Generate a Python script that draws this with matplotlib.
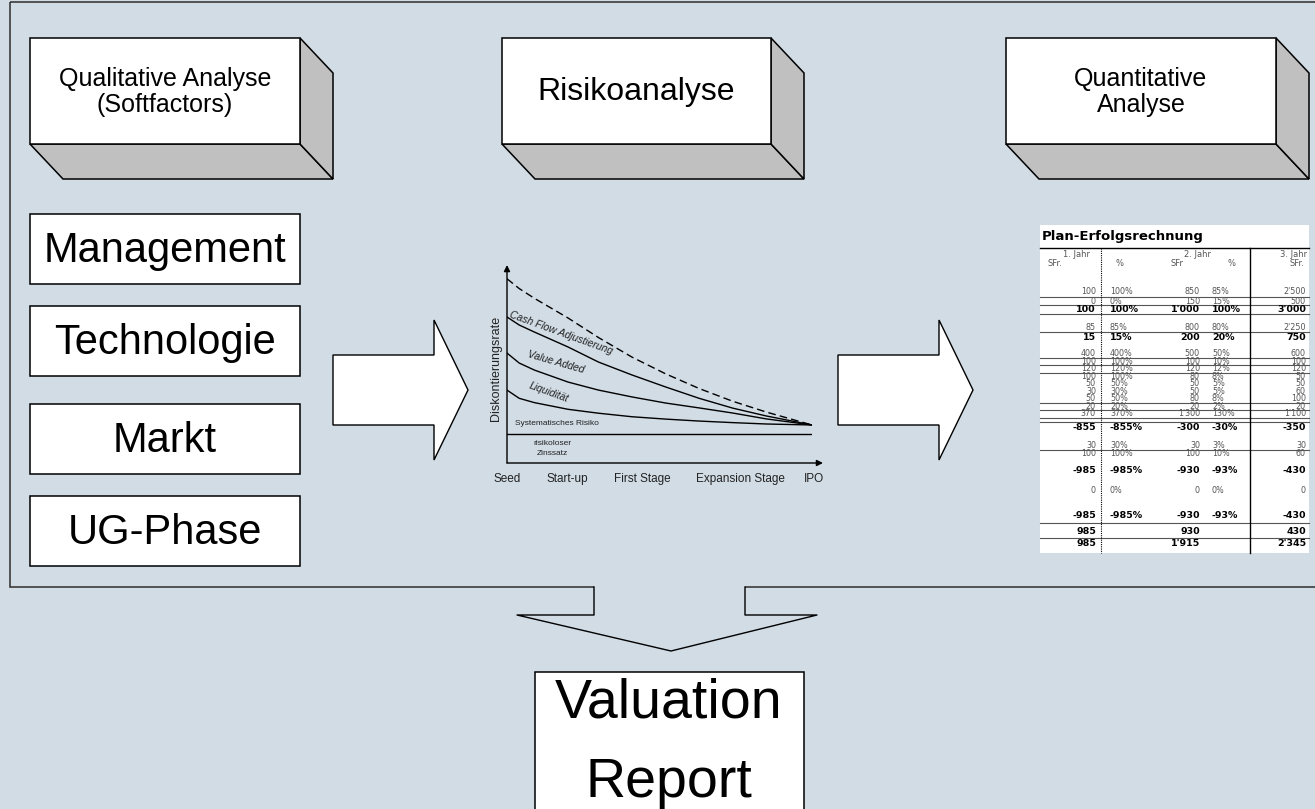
import matplotlib.pyplot as plt
from matplotlib.patches import Polygon, Rectangle

plt.rcParams['font.family'] = ['Liberation Sans', 'DejaVu Sans']

BG = '#D1DCE5'
SIDE = '#C0C0C0'

# ---------------- content ----------------
top_titles = ['Qualitative Analyse\n(Softfactors)', 'Risikoanalyse', 'Quantitative\nAnalyse']
factors = ['Management', 'Technologie', 'Markt', 'UG-Phase']

# risk chart (x: % of way Seed -> IPO, y: discount rate, arbitrary units)
stages = ['Seed', 'Start-up', 'First Stage', 'Expansion Stage', 'IPO']
stage_x = [0, 19.7, 44.3, 76.4, 100.7]
curve_x = [0, 4, 9, 20, 30, 41, 52, 63, 74, 85, 100]
total_rate = [94, 89, 84, 74, 64, 54, 45.5, 38, 31.5, 26, 19.4]   # dashed
cashflow = [74.5, 70.4, 66.8, 59.2, 51.5, 44.9, 38.8, 33, 28, 24, 19.4]
value_added = [56.1, 51, 47.4, 41.3, 37.2, 33.7, 30.6, 28.1, 25.5, 22.5, 19.4]
liquiditaet = [37.2, 33, 30.8, 27.4, 25.4, 23.6, 22.4, 21.4, 20.6, 19.9, 19.4]
riskfree = 14.8

# Plan-Erfolgsrechnung
years = ['1. Jahr', '2. Jahr', '3. Jahr']
head = ['SFr.', '%', 'SFr', '%', 'SFr.']
y1 = ['100', '0', '100', '85', '15', '400', '100', '120', '100', '50', '30', '50', '20', '370',
      '-855', '30', '100', '-985', '0', '-985', '985', '985']
p1 = ['100%', '0%', '100%', '85%', '15%', '400%', '100%', '120%', '100%', '50%', '30%', '50%', '20%',
      '370%', '-855%', '30%', '100%', '-985%', '0%', '-985%', '', '']
y2 = ['850', '150', "1'000", '800', '200', '500', '100', '120', '80', '50', '50', '80', '20', "1'300",
      '-300', '30', '100', '-930', '0', '-930', '930', "1'915"]
p2 = ['85%', '15%', '100%', '80%', '20%', '50%', '10%', '12%', '8%', '5%', '5%', '8%', '2%', '130%',
      '-30%', '3%', '10%', '-93%', '0%', '-93%', '', '']
y3 = ["2'500", '500', "3'000", "2'250", '750', '600', '100', '120', '50', '50', '60', '100', '20',
      "1'100", '-350', '30', '60', '-430', '0', '-430', '430', "2'345"]
bold_rows = [2, 4, 14, 17, 19, 20, 21]

# layout (pixels)
row_y = [292, 301, 309, 327, 337, 353, 361, 368.5, 376, 383.5, 391, 398.5, 406, 413.5, 427, 445, 453, 470,
         490, 515, 532, 544]
table_lines = [297, 305, 314, 332, 357.5, 365, 372.5, 402.5, 410, 418, 422, 449.5, 523, 538]

fig = plt.figure(figsize=(13.15, 8.09), dpi=100, facecolor=BG)
ax = fig.add_axes([0, 0, 1, 1])
ax.set_xlim(0, 1315)
ax.set_ylim(809, 0)
ax.axis('off')

# outer frame
ax.add_patch(Rectangle((10, 2), 1400, 585, fill=False, ec='#3a3a3a', lw=1.2))

# 3D boxes
dx, dy = 33, 35
for (x0, x1), title, fs in zip([(30, 300), (502, 771), (1006, 1276)], top_titles, [18, 23, 18]):
    y0, y1b = 38, 144
    ax.add_patch(Polygon([(x0, y1b), (x1, y1b), (x1 + dx, y1b + dy), (x0 + dx, y1b + dy)],
                         fc=SIDE, ec='black', lw=1.1))
    ax.add_patch(Polygon([(x1, y0), (x1 + dx, y0 + dy), (x1 + dx, y1b + dy), (x1, y1b)],
                         fc=SIDE, ec='black', lw=1.1))
    ax.add_patch(Rectangle((x0, y0), x1 - x0, y1b - y0, fc='white', ec='black', lw=1.1))
    ax.text((x0 + x1) / 2, 92, title, ha='center', va='center', fontsize=fs, linespacing=1.15)

# factor boxes
for i, name in enumerate(factors):
    top = [214, 306, 404, 496][i]
    ax.add_patch(Rectangle((30, top), 270, 70, fc='white', ec='black', lw=1.1))
    ax.text(165, top + 37, name, ha='center', va='center', fontsize=30)

# block arrows
for xs, xh, xt in [(333, 434, 468), (838, 939, 973)]:
    ax.add_patch(Polygon([(xs, 355), (xh, 355), (xh, 320), (xt, 390), (xh, 460), (xh, 425), (xs, 425)],
                         fc='white', ec='black', lw=1.0))

# ---------------- risk chart ----------------
cax = fig.add_axes([507 / 1315, 346 / 809, 305 / 1315, 196 / 809])
cax.set_xlim(0, 100)
cax.set_ylim(0, 100)
cax.axis('off')
cax.annotate('', xy=(0, 101), xytext=(0, 0), annotation_clip=False,
             arrowprops=dict(arrowstyle='-|>', color='black', lw=1.0, mutation_scale=9, shrinkA=0, shrinkB=0))
cax.annotate('', xy=(103.6, 0), xytext=(0, 0), annotation_clip=False,
             arrowprops=dict(arrowstyle='-|>', color='black', lw=1.0, mutation_scale=9, shrinkA=0, shrinkB=0))
cax.plot([0, 100], [riskfree, riskfree], color='black', lw=1.0)
cax.plot(curve_x, total_rate, color='black', lw=1.0, ls=(0, (5.5, 3)))
cax.plot(curve_x, cashflow, color='black', lw=1.0)
cax.plot(curve_x, value_added, color='black', lw=1.0)
cax.plot(curve_x, liquiditaet, color='black', lw=1.0)

cax.text(-3.6, 48.5, 'Diskontierungsrate', rotation=90, ha='center', va='center', fontsize=9, color='#222')
for s, sx in zip(stages, stage_x):
    cax.text(sx, -8.2, s, ha='center', va='center', fontsize=8.5, color='#222', clip_on=False)
cax.text(17.7, 66.3, 'Cash Flow Adjustierung', rotation=-20, rotation_mode='anchor', ha='center',
         va='center', fontsize=7.5, style='italic', color='#222')
cax.text(16, 51.5, 'Value Added', rotation=-16, rotation_mode='anchor', ha='center', va='center',
         fontsize=7.5, style='italic', color='#222')
cax.text(13.8, 36.0, 'Liquidität', rotation=-20, rotation_mode='anchor', ha='center', va='center',
         fontsize=7.5, style='italic', color='#222')
cax.text(2.6, 20.4, 'Systematisches Risiko', ha='left', va='center', fontsize=6, color='#222')
cax.text(15, 9.7, 'risikoloser', ha='center', va='center', fontsize=6, color='#222')
cax.text(15, 4.6, 'Zinssatz', ha='center', va='center', fontsize=6, color='#222')

# ---------------- table ----------------
tbl = Rectangle((1040, 225), 269, 328, fc='white', ec='none')
ax.add_patch(tbl)
ax.text(1042, 236, 'Plan-Erfolgsrechnung', ha='left', va='center', fontsize=9.5, fontweight='bold',
        family='DejaVu Sans')
ax.plot([1040, 1309], [248, 248], color='black', lw=1.0)
for ly in table_lines:
    ax.plot([1040, 1309], [ly, ly], color='#555', lw=0.8)
ax.plot([1101, 1101], [248, 553], color='black', lw=0.8, ls=(0, (1, 1)))
ax.plot([1250, 1250], [248, 553], color='black', lw=1.0)

for yr, xx, ha in zip(years, [1077, 1198, 1307], ['center', 'center', 'right']):
    ax.text(xx, 254, yr, ha=ha, va='center', fontsize=6, color='#555', family='DejaVu Sans')
for h, xx in zip(head, [1055, 1120, 1177, 1232, 1297]):
    ax.text(xx, 264, h, ha='center', va='center', fontsize=6, color='#555', family='DejaVu Sans')

for i, ry in enumerate(row_y):
    b = i in bold_rows
    kw = dict(va='center', fontsize=6.8 if b else 5.8, fontweight='bold' if b else 'normal',
              color='black' if b else '#555', family='DejaVu Sans')
    ax.text(1096, ry, y1[i], ha='right', **kw)
    ax.text(1110, ry, p1[i], ha='left', **kw)
    ax.text(1200, ry, y2[i], ha='right', **kw)
    ax.text(1212, ry, p2[i], ha='left', **kw)
    ax.text(1306, ry, y3[i], ha='right', **kw)

# ---------------- down arrow + report ----------------
shape = [(594, 587), (594, 615), (517, 615), (671, 651), (817, 615), (745, 615), (745, 587)]
ax.add_patch(Polygon(shape + [(745, 584), (594, 584)], closed=True, fc=BG, ec='none'))
ax.plot([p[0] for p in shape], [p[1] for p in shape], color='black', lw=1.0)

ax.add_patch(Rectangle((535, 672), 269, 160, fc='white', ec='black', lw=1.1))
ax.text(669, 717, 'Valuation', ha='center', va='baseline', fontsize=40)
ax.text(669, 797, 'Report', ha='center', va='baseline', fontsize=40)

fig.savefig('out.png', dpi=100, facecolor=BG)
